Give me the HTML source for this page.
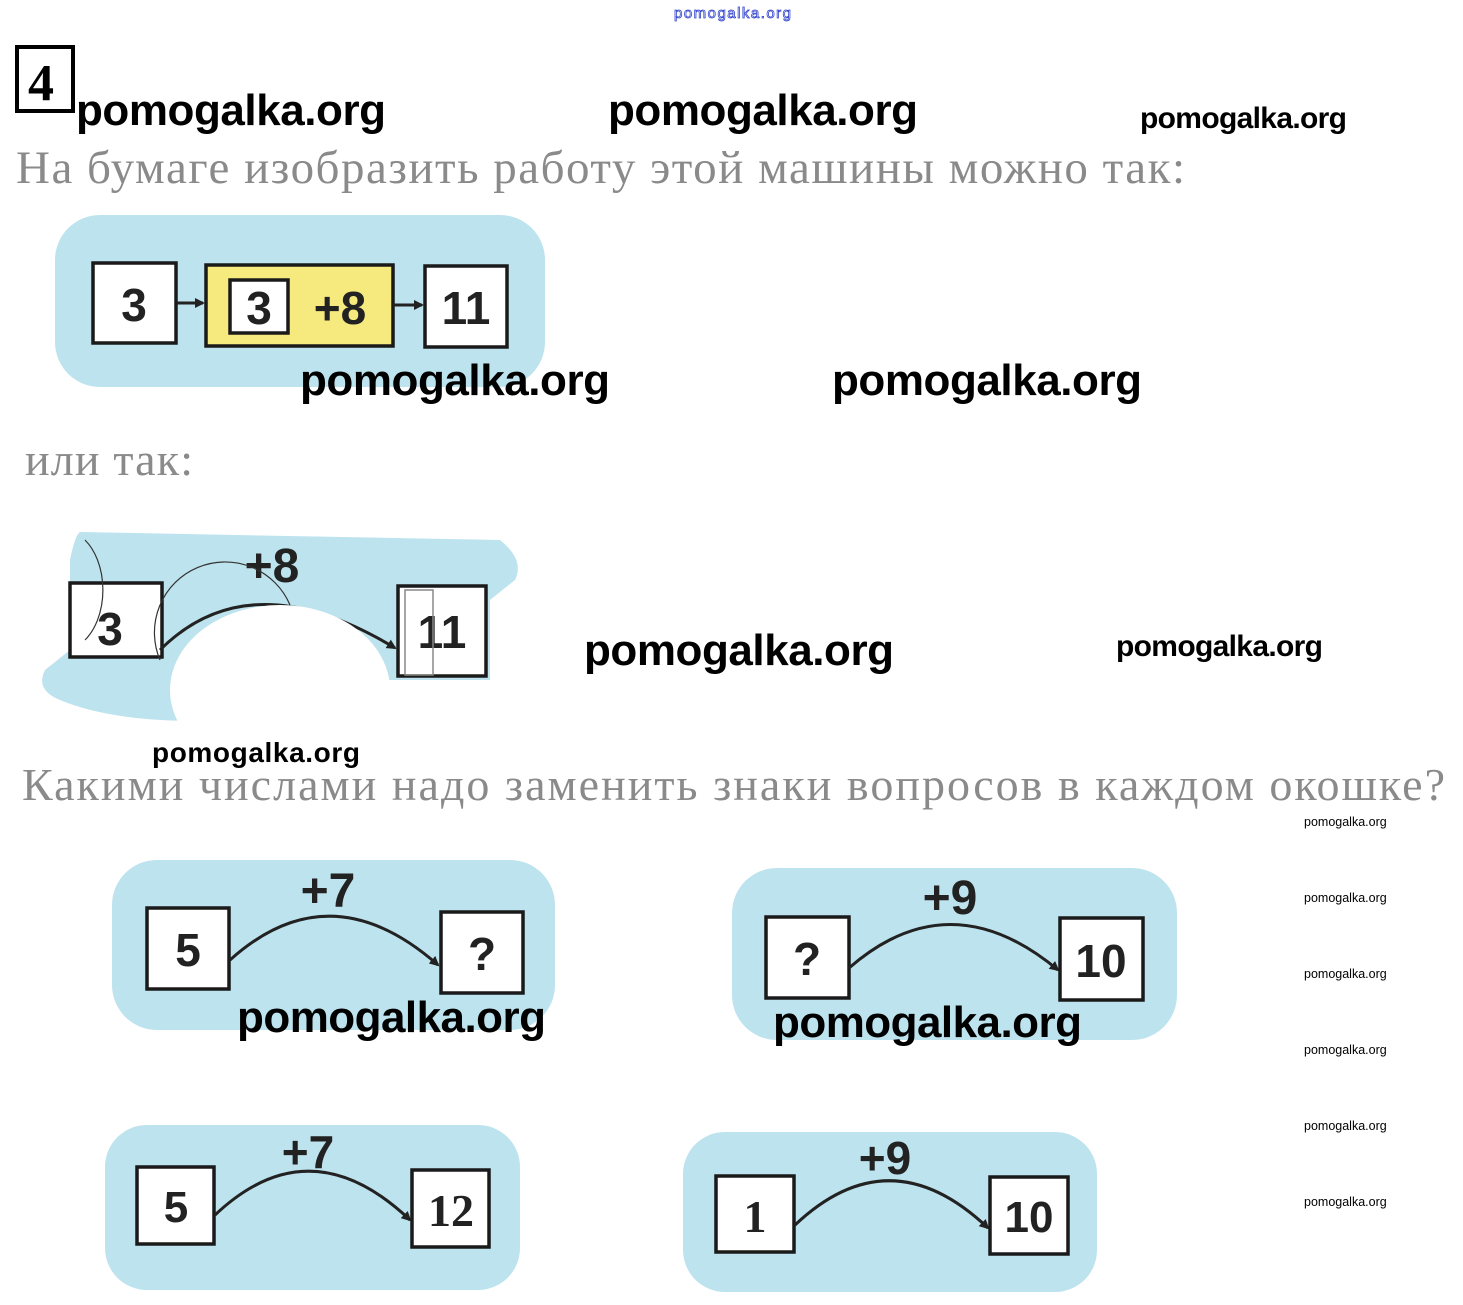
<!DOCTYPE html>
<html><head><meta charset="utf-8"><style>
html,body{margin:0;padding:0;background:#fff;}
svg{display:block;}
.wm{font-family:"Liberation Sans",sans-serif;font-weight:bold;fill:#000;}
.ru{font-family:"Liberation Serif","Noto Serif CJK SC",serif;fill:#8a8a8a;}
.n{font-family:"Liberation Sans",sans-serif;font-weight:bold;fill:#222;}
.bx{fill:#fff;stroke:#1a1a1a;stroke-width:3.5;}
.bl{fill:#bde3ee;}
.ar{fill:none;stroke:#222;stroke-width:3;}
</style></head><body>
<svg width="1463" height="1305" viewBox="0 0 1463 1305" xmlns="http://www.w3.org/2000/svg">
<defs><marker id="ah" markerWidth="10" markerHeight="10" refX="8" refY="5" orient="auto" markerUnits="userSpaceOnUse"><path d="M0,0 L10,5 L0,10 z" fill="#222"/></marker></defs>
<text x="674" y="18" font-family="Liberation Sans,sans-serif" font-size="15" fill="none" stroke="#3344cc" stroke-width="0.8" textLength="117">pomogalka.org</text>
<rect x="17" y="47" width="56" height="64" fill="none" stroke="#000" stroke-width="4"/>
<text x="28" y="100" font-family="Liberation Serif,serif" font-weight="bold" font-size="52">4</text>

<text class="wm" x="76" y="125" font-size="44" textLength="310">pomogalka.org</text>
<text class="wm" x="608" y="125" font-size="44" textLength="310">pomogalka.org</text>
<text class="wm" x="1140" y="128" font-size="30" textLength="207">pomogalka.org</text>

<text class="ru" x="16" y="183" font-size="47" textLength="1169">На бумаге изобразить работу этой машины можно так:</text>

<!-- diagram 1 -->
<rect class="bl" x="55" y="215" width="490" height="172" rx="45"/>
<rect class="bx" x="93" y="263" width="83" height="80"/>
<text class="n" x="134" y="321" font-size="46" text-anchor="middle">3</text>
<line class="ar" x1="177" y1="303" x2="203" y2="303" marker-end="url(#ah)"/>
<rect x="206" y="265" width="187" height="81" fill="#f6ea7e" stroke="#1a1a1a" stroke-width="3.5"/>
<rect class="bx" x="230" y="280" width="58" height="53"/>
<text class="n" x="259" y="324" font-size="46" text-anchor="middle">3</text>
<text class="n" x="340" y="324" font-size="46" text-anchor="middle">+8</text>
<line class="ar" x1="393" y1="305" x2="422" y2="305" marker-end="url(#ah)"/>
<rect class="bx" x="425" y="266" width="82" height="81"/>
<text class="n" x="466" y="324" font-size="46" text-anchor="middle">11</text>

<text class="wm" x="300" y="395" font-size="44" textLength="310">pomogalka.org</text>
<text class="wm" x="832" y="395" font-size="44" textLength="310">pomogalka.org</text>

<text class="ru" x="25" y="475" font-size="46" textLength="168">или так:</text>

<!-- diagram 2 (damaged) -->
<path class="bl" d="M80,532 L500,540 Q525,560 515,580 L490,600 L490,680 L360,680 L330,700 L250,700 L230,720 Q120,725 60,700 Q35,690 45,670 L70,650 L70,560 Q75,535 80,532 z"/>
<rect class="bx" x="70" y="583" width="92" height="74"/>
<text class="n" x="110" y="645" font-size="46" text-anchor="middle" fill="#444">3</text>
<text class="n" x="272" y="582" font-size="48" text-anchor="middle">+8</text>
<path class="ar" d="M160,650 Q250,560 395,648" marker-end="url(#ah)"/>
<rect class="bx" x="398" y="586" width="88" height="90"/>
<text class="n" x="442" y="648" font-size="46" text-anchor="middle">11</text>
<ellipse cx="280" cy="690" rx="110" ry="85" fill="#fff"/>
<path d="M85,540 A40,60 0 0 1 85,640" fill="none" stroke="#333" stroke-width="1.2"/>
<path d="M160,660 A70,70 0 0 1 290,605" fill="none" stroke="#333" stroke-width="1.2"/>
<rect x="405" y="590" width="28" height="85" fill="none" stroke="#888" stroke-width="1.5"/>

<text class="wm" x="584" y="665" font-size="44" textLength="310">pomogalka.org</text>
<text class="wm" x="1116" y="656" font-size="30" textLength="207">pomogalka.org</text>
<text class="wm" x="152" y="762" font-size="28" textLength="208">pomogalka.org</text>

<text class="ru" x="22" y="800" font-size="46" textLength="1423">Какими числами надо заменить знаки вопросов в каждом окошке?</text>

<g font-family="Liberation Sans,sans-serif" font-size="12.5" fill="#000">
<text x="1304" y="826">pomogalka.org</text>
<text x="1304" y="902">pomogalka.org</text>
<text x="1304" y="978">pomogalka.org</text>
<text x="1304" y="1054">pomogalka.org</text>
<text x="1304" y="1130">pomogalka.org</text>
<text x="1304" y="1206">pomogalka.org</text>
</g>

<!-- diagram 3 -->
<rect class="bl" x="112" y="860" width="443" height="170" rx="45"/>
<rect class="bx" x="147" y="908" width="82" height="81"/>
<text class="n" x="188" y="966" font-size="46" text-anchor="middle">5</text>
<text class="n" x="328" y="907" font-size="48" text-anchor="middle">+7</text>
<path class="ar" d="M230,960 Q330,870 438,965" marker-end="url(#ah)"/>
<rect class="bx" x="441" y="912" width="82" height="81"/>
<text class="n" x="482" y="970" font-size="46" text-anchor="middle">?</text>
<text class="wm" x="237" y="1032" font-size="44" textLength="309">pomogalka.org</text>

<!-- diagram 4 -->
<rect class="bl" x="732" y="868" width="445" height="172" rx="45"/>
<rect class="bx" x="766" y="917" width="83" height="81"/>
<text class="n" x="807" y="975" font-size="46" text-anchor="middle">?</text>
<text class="n" x="950" y="914" font-size="48" text-anchor="middle">+9</text>
<path class="ar" d="M849,968 Q950,880 1058,970" marker-end="url(#ah)"/>
<rect class="bx" x="1060" y="918" width="83" height="82"/>
<text class="n" x="1101" y="977" font-size="46" text-anchor="middle">10</text>
<text class="wm" x="773" y="1037" font-size="44" textLength="309">pomogalka.org</text>

<!-- diagram 5 -->
<rect class="bl" x="105" y="1125" width="415" height="165" rx="42"/>
<rect class="bx" x="137" y="1167" width="77" height="77"/>
<text class="n" x="176" y="1222" font-size="44" text-anchor="middle">5</text>
<text class="n" x="308" y="1168" font-size="46" text-anchor="middle">+7</text>
<path class="ar" d="M215,1215 Q310,1125 410,1220" marker-end="url(#ah)"/>
<rect class="bx" x="412" y="1170" width="77" height="77"/>
<text x="451" y="1226" font-family="Liberation Serif,serif" font-weight="bold" font-size="46" text-anchor="middle" fill="#222">12</text>

<!-- diagram 6 -->
<rect class="bl" x="683" y="1132" width="414" height="160" rx="42"/>
<rect class="bx" x="716" y="1176" width="78" height="76"/>
<text x="755" y="1232" font-family="Liberation Serif,serif" font-weight="bold" font-size="46" text-anchor="middle" fill="#222">1</text>
<text class="n" x="885" y="1174" font-size="46" text-anchor="middle">+9</text>
<path class="ar" d="M795,1225 Q890,1135 988,1228" marker-end="url(#ah)"/>
<rect class="bx" x="990" y="1177" width="78" height="77"/>
<text class="n" x="1029" y="1232" font-size="44" text-anchor="middle">10</text>
</svg>
</body></html>
